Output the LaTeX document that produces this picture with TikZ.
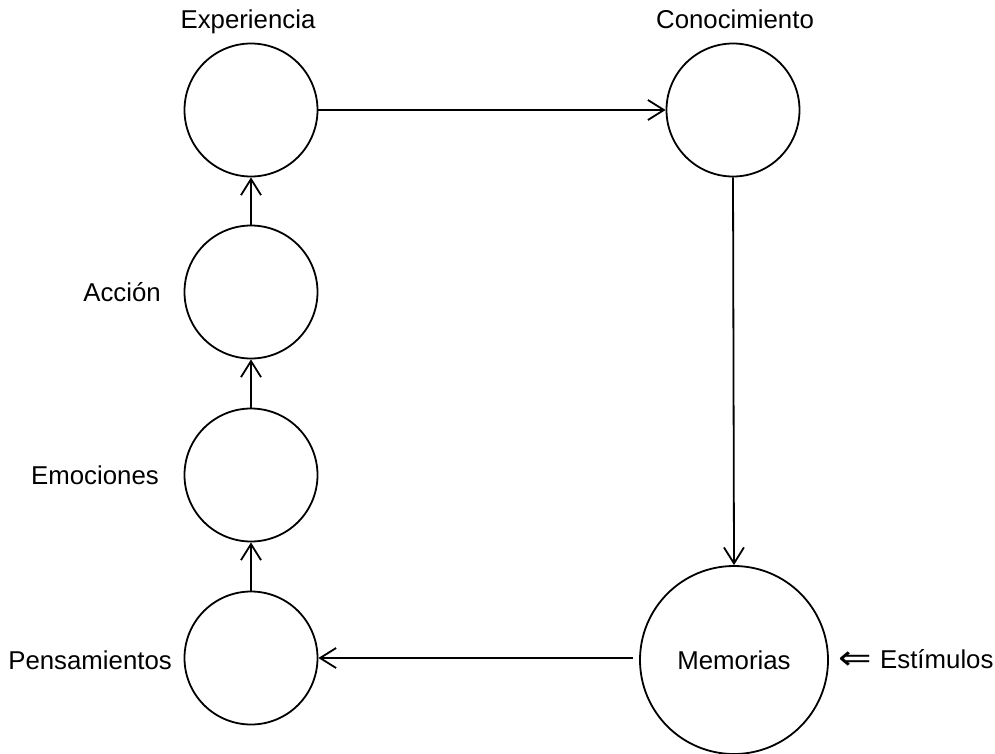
\documentclass[tikz,border=0pt]{standalone}
\usepackage{fontspec}
\setmainfont{Liberation Sans}
\newfontfamily\arrowfont{DejaVu Sans}
\usetikzlibrary{arrows.meta}
\begin{document}
\begin{tikzpicture}[x=1pt,y=-1pt,
  every node/.style={font=\fontsize{25.8}{30}\selectfont},
  stage/.style={circle,draw,line width=1.8pt,minimum size=133pt,inner sep=0pt},
  bigstage/.style={circle,draw,line width=1.8pt,minimum size=188pt,inner sep=0pt},
  flow/.style={line width=1.8pt,-{Straight Barb[length=16pt,width=20pt,line width=1.8pt]}},
  lbl/.style={inner sep=0pt}]
\useasboundingbox (0,0) rectangle (995,753);
% cycle stages
\node[stage] (exp) at (251,110) {};
\node[stage] (con) at (733,110) {};
\node[stage] (acc) at (251,292) {};
\node[stage] (emo) at (251,475) {};
\node[stage] (pen) at (251,658) {};
\node[bigstage] (mem) at (734,660) {Memorias};
% labels
\node[lbl,anchor=base] (lexp) at (248,28) {Experiencia};
\node[lbl,anchor=base] (lcon) at (735,28) {Conocimiento};
\node[lbl,anchor=east] (lacc) at (161,292) {Acción};
\node[lbl,anchor=east] (lemo) at (159,475) {Emociones};
\node[lbl,anchor=east] (lpen) at (172,660) {Pensamientos};
\node[lbl,anchor=center] (larr) at (855,661) {\scalebox{1.55}[1.3]{\arrowfont ⇐}};
\node[lbl,anchor=base west] (lest) at (880,668) {Estímulos};
% connectors
\draw[flow] (exp.east) -- (con.west);
\draw[flow] (con.south) -- (mem.north);
\draw[flow,shorten <=6pt] (mem.west |- pen.east) -- (pen.east);
\draw[flow] (pen.north) -- (emo.south);
\draw[flow] (emo.north) -- (acc.south);
\draw[flow] (acc.north) -- (exp.south);
\end{tikzpicture}
\end{document}
